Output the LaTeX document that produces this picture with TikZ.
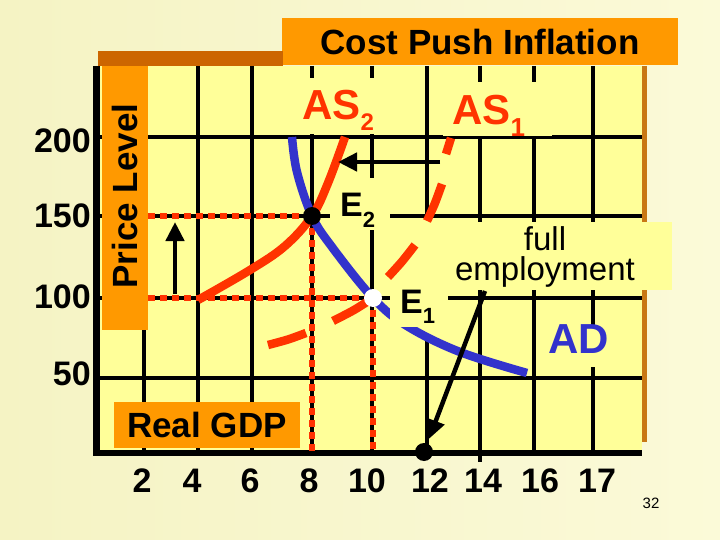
\documentclass[tikz,border=0pt]{standalone}
\usepackage{fontspec}
\setmainfont{Liberation Sans}
\usetikzlibrary{arrows.meta}
\definecolor{bgL}{RGB}{245,243,196}
\definecolor{bgR}{RGB}{251,250,216}
\definecolor{plotyel}{RGB}{255,255,153}
\definecolor{orng}{RGB}{255,153,0}
\definecolor{brownbar}{RGB}{204,102,0}
\definecolor{brownedge}{RGB}{200,120,20}
\definecolor{asred}{RGB}{255,51,0}
\definecolor{adblue}{RGB}{51,51,204}
\newcommand{\fsz}[1]{\fontsize{#1}{#1}\selectfont}
\newcommand{\lowsub}[3]{\raisebox{-#1pt}{\fsz{#2}#3}}
\begin{document}
\begin{tikzpicture}[x=1pt,y=-1pt,
  gridline/.style={line width=3.5pt,black},
  axisline/.style={line width=6.5pt,black},
  cover/.style={fill=plotyel},
  ticklab/.style={inner sep=0pt,font=\fsz{34}\bfseries,anchor=base},
  reddots/.style={asred,line width=6.5pt,dash pattern=on 6.5pt off 5.5pt},
  curveline/.style={line width=8.5pt},
  blackarrow/.style={line width=4.5pt,-{Triangle[length=19pt,width=18pt]}},
  dotnode/.style={circle,minimum size=18pt,inner sep=0pt},
]
\useasboundingbox (0,0) rectangle (720,540);
\shade[left color=bgL,right color=bgR] (0,0) rectangle (720,540);

% frame
\node[fill=orng,minimum width=396pt,minimum height=47pt,inner sep=0pt,font=\fsz{35}\bfseries] (title) at (480,41.5) {Cost Push Inflation};
\fill[brownbar] (98,51) rectangle (283,66);
\fill[plotyel] (98,66) rectangle (642,453);

% grid
\foreach \y in {137,216,298,378} \draw[gridline] (98,\y) -- (642,\y);
\foreach \x in {144,198,252,312,372,427,480,534,593} \draw[gridline] (\x,66) -- (\x,453);
\draw[gridline] (480,453) -- (480,462);
\draw[brownedge,line width=5pt] (644.5,66) -- (644.5,442);

% covering label backgrounds
\fill[cover] (300,78) rectangle (385,134.5);
\fill[cover] (443,82) rectangle (552,136.5);
\fill[cover] (330,178) rectangle (390,230);
\fill[cover] (390,219) rectangle (448,340);
\fill[cover] (448,222) rectangle (672,290);
\fill[cover] (542,327) rectangle (615,367);
\fill[orng] (102,66) rectangle (148,330);
\fill[orng] (114,402) rectangle (300,448);

% axes
\draw[axisline] (96.5,66) -- (96.5,456.25);
\draw[axisline] (93.25,453) -- (642,453);

% key points
\coordinate (E2) at (312,216);
\coordinate (E1) at (373,298);
\coordinate (P150) at (148,216);
\coordinate (P100) at (148,298);
\coordinate (Q8) at (312,453);
\coordinate (Q10) at (373,453);
\coordinate (upS) at (175,294);
\coordinate (upE) at (175,222);
\coordinate (lfS) at (440,162);
\coordinate (lfE) at (338,162);
\coordinate (feS) at (485,291);

% dotted guides
\draw[reddots] (P150) -- (E2);
\draw[reddots] (E2) -- (Q8);
\draw[reddots] (P100) -- (E1);
\draw[reddots] (E1) -- (Q10);

% curves
\draw[asred,curveline] plot[smooth,tension=0.6] coordinates {(198,300) (250,270) (285,246) (312,216) (328,183) (345,137)};
\draw[adblue,curveline] plot[smooth,tension=0.6] coordinates {(292,137) (297,172) (312,216) (332,247) (373,298) (407,326) (460,352) (527,373)};
\fill[cover] (390,301) rectangle (448,327);
% AS1 drawn as its separate dashes
\draw[asred,curveline] plot[smooth] coordinates {(268,345) (288,339.5) (306,333)};
\draw[asred,curveline] plot[smooth] coordinates {(333,321) (354,310) (373,298)};
\draw[asred,curveline] plot[smooth] coordinates {(388,277) (402,261.5) (415,245)};
\draw[asred,curveline] plot[smooth] coordinates {(427,221) (435,203) (442,184)};
\draw[asred,curveline] (446,154) -- (451,138);

% dots
\node[dotnode,fill=black] (E2dot) at (E2) {};
\node[dotnode,fill=white] (E1dot) at (E1) {};
\node[dotnode,fill=black] (gdpdot) at (424,452) {};

% arrows
\draw[blackarrow] (upS) -- (upE);
\draw[blackarrow] (lfS) -- (lfE);
\draw[blackarrow,shorten >=14pt] (feS) -- (gdpdot.center);

% axis labels
\node[rotate=90,inner sep=0pt,font=\fsz{35}\bfseries] (ylab) at (124.5,196) {Price Level};
\node[inner sep=0pt,font=\fsz{35}\bfseries] (xlab) at (207,425) {Real GDP};

% tick labels
\node[ticklab,anchor=base east] (t200) at (91,153) {200};
\node[ticklab,anchor=base east] (t150) at (91,227) {150};
\node[ticklab,anchor=base east] (t100) at (91,308) {100};
\node[ticklab,anchor=base east] (t50) at (91,385) {50};
\node[ticklab] (b2) at (142,492) {2};
\node[ticklab] (b4) at (192,492) {4};
\node[ticklab] (b6) at (250,492) {6};
\node[ticklab] (b8) at (309,492) {8};
\node[ticklab] (b10) at (367,492) {10};
\node[ticklab] (b12) at (430,492) {12};
\node[ticklab] (b14) at (483,492) {14};
\node[ticklab] (b16) at (540,492) {16};
\node[ticklab] (b17) at (597,492) {17};

% curve labels
\node[anchor=base west,inner sep=0pt,text=asred,font=\fsz{42}\bfseries] (as2) at (302,120) {AS\lowsub{11}{24}{2}};
\node[anchor=base west,inner sep=0pt,text=asred,font=\fsz{42}\bfseries] (as1) at (452,125) {AS\lowsub{12}{26}{1}};
\node[anchor=base west,inner sep=0pt,font=\fsz{34}\bfseries] (e2lab) at (340,217) {E\lowsub{11}{22}{2}};
\node[anchor=base west,inner sep=0pt,font=\fsz{34}\bfseries] (e1lab) at (400,313) {E\lowsub{10}{22}{1}};
\node[anchor=base west,inner sep=0pt,text=adblue,font=\fsz{42}\bfseries] (ad) at (548,353) {AD};
\node[anchor=base,inner sep=0pt,font=\fsz{33}] (full) at (545,250) {full};
\node[anchor=base,inner sep=0pt,font=\fsz{33}] (employ) at (545,280) {employment};
\node[anchor=base,inner sep=0pt,font=\fsz{15}] (pg) at (651,508) {32};
\end{tikzpicture}
\end{document}
